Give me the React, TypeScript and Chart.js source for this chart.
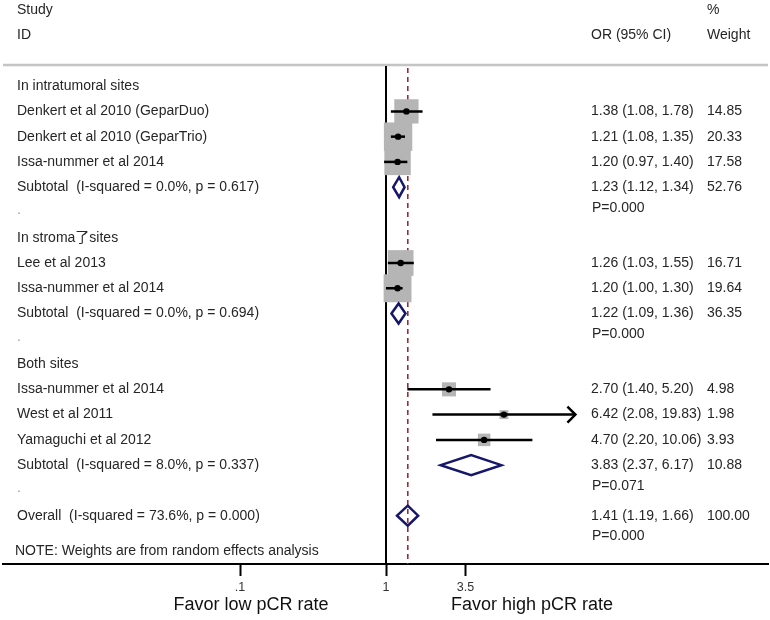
import React, { useEffect, useRef } from "react";
import { Chart, registerables } from "chart.js";

Chart.register(...registerables);

// ---------- data ----------
const studyNames = [
  "Denkert et al 2010 (GeparDuo)",
  "Denkert et al 2010 (GeparTrio)",
  "Issa-nummer et al 2014",
  "Lee et al 2013",
  "Issa-nummer et al 2014",
  "Issa-nummer et al 2014",
  "West et al 2011",
  "Yamaguchi et al 2012",
];
const studyRows = [4, 5, 6, 10, 11, 15, 16, 17];
const studyOR = [1.38, 1.21, 1.2, 1.26, 1.2, 2.7, 6.42, 4.7];
const studyLow = [1.08, 1.08, 0.97, 1.03, 1.0, 1.4, 2.08, 2.2];
const studyHigh = [1.78, 1.35, 1.4, 1.55, 1.3, 5.2, 19.83, 10.06];
const studyWeight = [14.85, 20.33, 17.58, 16.71, 19.64, 4.98, 1.98, 3.93];

const groupLabels = ["In intratumoral sites", "In stroma了sites", "Both sites"];
const groupRows = [3, 9, 14];

const pooledLabels = [
  "Subtotal  (I-squared = 0.0%, p = 0.617)",
  "Subtotal  (I-squared = 0.0%, p = 0.694)",
  "Subtotal  (I-squared = 8.0%, p = 0.337)",
  "Overall  (I-squared = 73.6%, p = 0.000)",
];
const pooledRows = [7, 12, 18, 20];
const pooledOR = [1.23, 1.22, 3.83, 1.41];
const pooledLow = [1.12, 1.09, 2.37, 1.19];
const pooledHigh = [1.34, 1.36, 6.17, 1.66];
const pooledWeight = [52.76, 36.35, 10.88, 100.0];
const pooledP = ["P=0.000", "P=0.000", "P=0.071", "P=0.000"];

const dotRows = [8, 13, 19];
const overallOR = 1.41;

const xTickValues = [0.1, 1, 3.5];
const xTickLabels = [".1", "1", "3.5"];
const arrowLimit = 12;

// ---------- layout constants ----------
const W = 770;
const H = 620;
const PX_PER_DECADE = 146;
const ONE_PX = 386;
const AREA_LEFT = 3;
const AREA_RIGHT = 768;
const AREA_BOTTOM = 564;
const ROW0_Y = 10.3;
const ROW_H = 25.27;
const STUDY_X = 17;
const OR_X = 591;
const WT_X = 707;
const FONT = '"Liberation Sans", Arial, "Noto Sans CJK SC", sans-serif';
const TEXT_COLOR = "#262626";

const xMin = Math.pow(10, -(ONE_PX - AREA_LEFT) / PX_PER_DECADE);
const xMax = Math.pow(10, (AREA_RIGHT - ONE_PX) / PX_PER_DECADE);
const yMin = -ROW0_Y / ROW_H;
const yMax = (AREA_BOTTOM - ROW0_Y) / ROW_H;

const fmtCI = (o: number, l: number, h: number) =>
  `${o.toFixed(2)} (${l.toFixed(2)}, ${h.toFixed(2)})`;

const boxSide = (w: number) => 6.3 * Math.sqrt(w);

const forestPlugin = {
  id: "forest",
  beforeDatasetsDraw(chart: any) {
    const ctx = chart.ctx;
    const xs = chart.scales.x;
    const ys = chart.scales.y;
    const area = chart.chartArea;
    ctx.save();
    // separator
    const sepY = ys.getPixelForValue(2.16);
    ctx.strokeStyle = "#c4c4c4";
    ctx.lineWidth = 2.5;
    ctx.beginPath();
    ctx.moveTo(area.left, sepY);
    ctx.lineTo(area.right, sepY);
    ctx.stroke();
    // null line
    const x1 = xs.getPixelForValue(1);
    ctx.strokeStyle = "#000";
    ctx.lineWidth = 2;
    ctx.beginPath();
    ctx.moveTo(x1, sepY + 1);
    ctx.lineTo(x1, area.bottom);
    ctx.stroke();
    // overall effect dashed line
    const xo = xs.getPixelForValue(overallOR);
    ctx.strokeStyle = "#9b2a35";
    ctx.lineWidth = 1.6;
    ctx.setLineDash([5, 4]);
    ctx.beginPath();
    ctx.moveTo(xo, sepY + 3);
    ctx.lineTo(xo, area.bottom);
    ctx.stroke();
    ctx.restore();
  },
  afterDatasetsDraw(chart: any) {
    const ctx = chart.ctx;
    const xs = chart.scales.x;
    const ys = chart.scales.y;
    ctx.save();
    // CI lines
    ctx.strokeStyle = "#000";
    ctx.lineWidth = 2.5;
    studyRows.forEach((r, i) => {
      const y = ys.getPixelForValue(r);
      const xl = xs.getPixelForValue(studyLow[i]);
      const xh = xs.getPixelForValue(studyHigh[i]);
      ctx.beginPath();
      ctx.moveTo(xl, y);
      ctx.lineTo(xh, y);
      ctx.stroke();
      if (studyHigh[i] > arrowLimit) {
        ctx.beginPath();
        ctx.moveTo(xh - 8, y - 8);
        ctx.lineTo(xh, y);
        ctx.lineTo(xh - 8, y + 8);
        ctx.stroke();
      }
    });
    // diamonds
    ctx.strokeStyle = "#16166b";
    ctx.lineWidth = 2.5;
    ctx.lineJoin = "miter";
    pooledRows.forEach((r, i) => {
      const y = ys.getPixelForValue(r);
      const xl = xs.getPixelForValue(pooledLow[i]);
      const xh = xs.getPixelForValue(pooledHigh[i]);
      const xc = xs.getPixelForValue(pooledOR[i]);
      const hh = 10;
      ctx.beginPath();
      ctx.moveTo(xl, y);
      ctx.lineTo(xc, y - hh);
      ctx.lineTo(xh, y);
      ctx.lineTo(xc, y + hh);
      ctx.closePath();
      ctx.stroke();
    });
    // texts
    ctx.fillStyle = TEXT_COLOR;
    ctx.textBaseline = "middle";
    ctx.textAlign = "left";
    ctx.font = `14px ${FONT}`;
    const ry = (r: number) => ys.getPixelForValue(r);
    ctx.fillText("Study", STUDY_X, ry(0));
    ctx.fillText("ID", STUDY_X, ry(1));
    ctx.fillText("%", WT_X, ry(0));
    ctx.fillText("OR (95% CI)", OR_X, ry(1));
    ctx.fillText("Weight", WT_X, ry(1));
    groupLabels.forEach((t, i) => ctx.fillText(t, STUDY_X, ry(groupRows[i])));
    studyNames.forEach((t, i) => {
      const y = ry(studyRows[i]);
      ctx.fillText(t, STUDY_X, y);
      ctx.fillText(fmtCI(studyOR[i], studyLow[i], studyHigh[i]), OR_X, y);
      ctx.fillText(studyWeight[i].toFixed(2), WT_X, y);
    });
    pooledLabels.forEach((t, i) => {
      const y = ry(pooledRows[i]);
      ctx.fillText(t, STUDY_X, y);
      ctx.fillText(fmtCI(pooledOR[i], pooledLow[i], pooledHigh[i]), OR_X, y);
      ctx.fillText(pooledWeight[i].toFixed(2), WT_X, y);
      ctx.fillText(pooledP[i], OR_X + 1, ry(pooledRows[i] + 0.82));
    });
    ctx.fillStyle = "#999";
    dotRows.forEach((r) => ctx.fillText(".", STUDY_X, ry(r) - 2));
    ctx.fillStyle = TEXT_COLOR;
    ctx.font = `14px ${FONT}`;
    ctx.fillText("NOTE: Weights are from random effects analysis", STUDY_X - 2, ry(21.4));
    // favour labels
    const x1 = xs.getPixelForValue(1);
    ctx.font = `18px ${FONT}`;
    ctx.textAlign = "center";
    ctx.fillStyle = "#111";
    ctx.fillText("Favor low pCR rate", x1 - 135, 605);
    ctx.fillText("Favor high pCR rate", x1 + 146, 605);
    ctx.restore();
  },
};

export default function App() {
  const ref = useRef<HTMLCanvasElement | null>(null);
  useEffect(() => {
    if (!ref.current) return;
    const chart = new Chart(ref.current, {
      type: "scatter",
      data: {
        datasets: [
          {
            label: "weights",
            order: 2,
            data: studyRows.map((r, i) => ({ x: studyOR[i], y: r })),
            pointStyle: "rect",
            pointRadius: studyWeight.map((w) => boxSide(w) / Math.SQRT2),
            pointHoverRadius: studyWeight.map((w) => boxSide(w) / Math.SQRT2),
            backgroundColor: "#b5b5b5",
            borderWidth: 0,
            borderColor: "#b5b5b5",
          },
          {
            label: "estimates",
            order: 1,
            data: studyRows.map((r, i) => ({ x: studyOR[i], y: r })),
            pointStyle: "circle",
            pointRadius: 3.2,
            backgroundColor: "#000",
            borderColor: "#000",
            borderWidth: 0,
          },
        ],
      },
      options: {
        responsive: false,
        animation: false,
        events: [],
        layout: {
          autoPadding: false,
          padding: { left: AREA_LEFT, right: W - AREA_RIGHT, top: 0, bottom: 0 },
        },
        plugins: { legend: { display: false }, tooltip: { enabled: false }, title: { display: false } },
        scales: {
          x: {
            type: "logarithmic",
            min: xMin,
            max: xMax,
            bounds: "data",
            afterBuildTicks: (scale: any) => {
              scale.ticks = xTickValues.map((v) => ({ value: v }));
            },
            afterFit: (scale: any) => {
              scale.height = H - AREA_BOTTOM;
            },
            ticks: {
              autoSkip: false,
              maxRotation: 0,
              padding: 4,
              color: "#333",
              font: { size: 12.5, family: FONT },
              callback: (v: any) => {
                const idx = xTickValues.indexOf(Number(v));
                return idx >= 0 ? xTickLabels[idx] : "";
              },
            },
            grid: {
              drawOnChartArea: false,
              drawTicks: true,
              tickLength: 12,
              tickColor: "#000",
              tickWidth: 2,
              color: "#000",
            },
            border: { display: true, color: "#000", width: 2 },
          },
          y: {
            type: "linear",
            display: false,
            reverse: true,
            min: yMin,
            max: yMax,
          },
        },
      },
      plugins: [forestPlugin],
    });
    return () => chart.destroy();
  }, []);
  return (
    <div style={{ position: "absolute", left: 0, top: 0, width: W, height: H, background: "#fff" }}>
      <canvas ref={ref} width={W} height={H} style={{ width: W, height: H, display: "block" }} />
    </div>
  );
}
